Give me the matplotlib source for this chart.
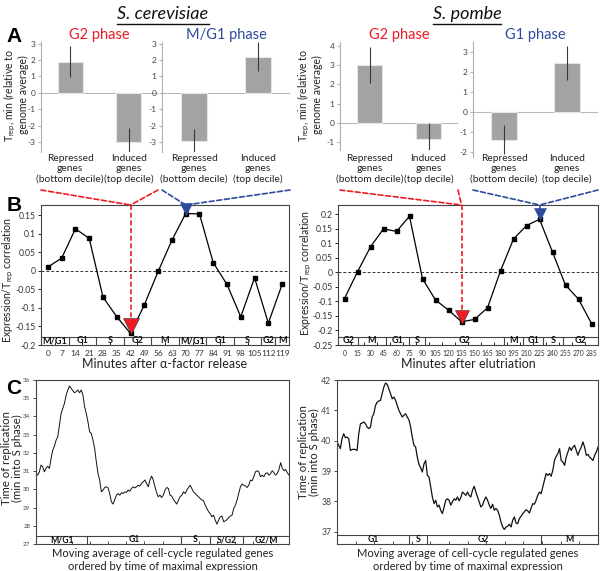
import numpy as np
import matplotlib
matplotlib.use("Agg")
import matplotlib.pyplot as plt
from matplotlib.lines import Line2D
from matplotlib.patches import ConnectionPatch

plt.rcParams['font.family'] = ['Lato', 'DejaVu Sans']
plt.rcParams['mathtext.fontset'] = 'custom'
plt.rcParams['mathtext.rm'] = 'Lato'
plt.rcParams['mathtext.it'] = 'Lato:italic'

# ---------------- data ----------------
bar_categories = ["Repressed\ngenes\n(bottom decile)", "Induced\ngenes\n(top decile)"]
sc_g2_values = [1.9, -3.0]
sc_g2_err = [0.95, 0.85]
sc_mg1_values = [-2.95, 2.2]
sc_mg1_err = [0.75, 0.88]
sp_g2_values = [3.02, -0.85]
sp_g2_err = [0.92, 0.85]
sp_g1_values = [-1.4, 2.45]
sp_g1_err = [0.72, 0.85]

sc_minutes = list(range(0, 120, 7))
sc_corr = [0.01, 0.034, 0.113, 0.087, -0.071, -0.124, -0.169, -0.092, -0.002,
           0.082, 0.154, 0.153, 0.022, -0.037, -0.124, -0.019, -0.141, -0.037]
sc_phase_labels = ["M/G1", "G1", "S", "G2", "M", "M/G1", "G1", "S", "G2", "M"]
sc_phase_bounds = [-3.5, 10.5, 24.5, 38.5, 52.5, 66.5, 80.5, 94.5, 108.5, 115.5, 122.5]

sp_minutes = list(range(0, 286, 15))
sp_corr = [-0.090, 0.002, 0.088, 0.150, 0.141, 0.193, -0.022, -0.095, -0.130, -0.170,
           -0.162, -0.122, 0.005, 0.115, 0.161, 0.183, 0.070, -0.044, -0.092, -0.176]
sp_phase_labels = ["G2", "M", "G1", "S", "G2", "M", "G1", "S", "G2"]
sp_phase_bounds = [-7.5, 16, 47.5, 74.5, 92.5, 184, 206, 229.5, 252.5, 292.5]

sc_rep = [30.87, 30.78, 30.96, 31.33, 31.24, 30.96, 31.15, 31.27, 31.15, 31.70, 32.15, 32.37,
          32.70, 32.89, 33.53, 34.17, 34.44, 34.72, 35.18, 35.45, 35.67, 35.54, 35.41, 35.30,
          35.36, 35.45, 35.30, 35.45, 35.18, 34.53, 34.17, 33.71, 33.16, 33.07, 32.70, 32.25,
          31.51, 30.87, 30.51, 29.86, 29.96, 30.10, 30.14, 30.08, 29.77, 29.32, 29.19, 29.44,
          29.68, 29.77, 29.68, 29.81, 29.77, 29.86, 29.83, 29.96, 29.90, 30.05, 30.14, 30.08,
          30.14, 30.23, 30.18, 30.32, 30.41, 30.51, 30.32, 30.14, 30.51, 30.73, 30.51, 30.14,
          29.81, 29.59, 29.68, 29.55, 29.68, 29.96, 30.10, 30.05, 29.68, 29.63, 29.44, 29.32,
          29.19, 29.41, 29.59, 29.68, 29.86, 29.77, 29.96, 30.10, 30.23, 30.05, 29.86, 29.77,
          29.68, 29.59, 29.50, 29.41, 29.37, 29.13, 28.95, 28.77, 28.67, 28.49, 28.58, 28.31,
          28.09, 28.31, 28.49, 28.53, 28.22, 28.27, 28.34, 28.45, 28.53, 28.58, 28.95, 29.13,
          29.41, 29.77, 30.14, 30.29, 30.23, 30.18, 30.10, 30.23, 30.51, 30.47, 30.69, 30.96,
          31.02, 30.96, 30.69, 30.78, 30.69, 30.87, 30.91, 30.78, 30.87, 31.02, 30.91, 30.78,
          30.87, 31.09, 31.46, 31.15, 31.02, 31.09, 30.91, 30.78]
sc_rep_labels = ["M/G1", "G1", "S", "S/G2", "G2/M"]
sc_rep_bounds = [0.0, 0.203, 0.573, 0.686, 0.818, 1.0]

sp_rep = [39.96, 39.85, 39.74, 40.07, 40.23, 40.10, 40.12, 40.07, 39.68, 39.71, 39.72, 39.71,
          39.68, 40.23, 40.56, 40.58, 40.62, 40.56, 40.45, 40.40, 40.45, 40.78, 40.89, 41.16,
          41.27, 41.31, 41.33, 41.55, 41.77, 41.90, 41.86, 41.71, 41.55, 41.38, 41.44, 41.33,
          41.16, 41.00, 40.89, 40.78, 40.84, 40.89, 40.78, 40.69, 40.45, 40.12, 39.85, 39.79,
          39.46, 39.22, 39.11, 38.97, 39.24, 39.35, 38.86, 38.81, 38.48, 38.15, 37.93, 38.04,
          37.82, 37.88, 37.71, 37.60, 37.82, 38.04, 38.09, 38.04, 37.88, 37.99, 38.09, 38.04,
          38.15, 38.02, 38.13, 38.31, 38.26, 38.20, 38.31, 38.20, 38.15, 38.37, 38.50, 38.31,
          38.15, 37.99, 37.82, 37.88, 38.04, 38.15, 38.04, 37.88, 37.77, 37.91, 37.71, 37.77,
          37.71, 37.55, 37.33, 37.16, 37.08, 37.16, 37.18, 37.25, 37.16, 37.38, 37.49, 37.29,
          37.27, 37.44, 37.51, 37.60, 37.66, 37.73, 37.69, 37.62, 37.77, 37.93, 37.91, 38.04,
          38.20, 38.31, 38.26, 38.48, 38.70, 38.92, 38.86, 38.92, 38.83, 39.03, 39.35, 39.49,
          39.57, 39.74, 39.35, 39.30, 39.19, 39.46, 39.63, 39.79, 39.68, 39.79, 39.85, 39.68,
          39.52, 39.68, 39.79, 39.96, 39.79, 39.52, 39.55, 39.46, 39.41, 39.35, 39.52, 39.63,
          39.79]
sp_rep_labels = ["G1", "S", "G2", "M"]
sp_rep_bounds = [0.0, 0.277, 0.343, 0.781, 1.0]

# ---------------- layout helpers ----------------
W, H = 600, 571
fig = plt.figure(figsize=(6, 5.71), dpi=100)
RED = '#ee1c24'
BLUE = '#2e4b9e'


def pos(x0, y0, x1, y1):
    return [x0 / W, 1 - y1 / H, (x1 - x0) / W, (y1 - y0) / H]


def fy(y):
    return 1 - y / H


def fx(x):
    return x / W


# ---------------- panel A ----------------
def bar_panel(rect, vals, errs, ylim, yticks, title, tcolor):
    ax = fig.add_axes(rect)
    x = np.arange(len(vals))
    ax.bar(x, vals, width=0.42, color='#a3a3a3', edgecolor='#e6e6e6', linewidth=0.8, zorder=2)
    ax.errorbar(x, vals, yerr=errs, fmt='none', ecolor='#3a3a3a', elinewidth=0.8, capsize=0, zorder=3)
    ax.axhline(0, color='#b8b8b8', lw=0.8, zorder=1)
    ax.set_xlim(-0.5, 1.5)
    ax.set_ylim(*ylim)
    for s in ['top', 'right', 'bottom']:
        ax.spines[s].set_visible(False)
    ax.spines['left'].set_color('#b0b0b0')
    ax.spines['left'].set_linewidth(0.8)
    ax.set_yticks(yticks)
    ax.set_yticklabels([f"{v:g}" for v in yticks])
    ax.tick_params(axis='y', labelsize=6, length=2.5, color='#b0b0b0', labelcolor='#404040', pad=1.5)
    ax.set_xticks([])
    ax.patch.set_alpha(0)
    ax.set_title(title, color=tcolor, fontsize=10.5, pad=0)
    for i, lab in enumerate(bar_categories):
        ax.annotate(lab, xy=(i, fy(154)), xycoords=('data', 'figure fraction'),
                    ha='center', va='top', fontsize=7.4, linespacing=1.15, color='#222222')
    return ax


axA1 = bar_panel(pos(41, 42, 158, 152), sc_g2_values, sc_g2_err, (-3.6, 3.1), [-3, -2, -1, 0, 1, 2, 3], "G2 phase", RED)
axA2 = bar_panel(pos(162, 42, 290, 152), sc_mg1_values, sc_mg1_err, (-3.6, 3.1), [-3, -2, -1, 0, 1, 2, 3], "M/G1 phase", BLUE)
axA3 = bar_panel(pos(340, 42, 458, 150), sp_g2_values, sp_g2_err, (-1.4, 4.2), [-1, 0, 1, 2, 3, 4], "G2 phase", RED)
axA4 = bar_panel(pos(473, 42, 598, 157), sp_g1_values, sp_g1_err, (-2.25, 3.48), [-2, -1, 0, 1, 2, 3], "G1 phase", BLUE)

for xx in (15, 309):
    fig.text(fx(xx), fy(95), "T$_{\\mathrm{rep}}$, min (relative to\ngenome average)", rotation=90,
             ha='center', va='center', fontsize=7.6, linespacing=1.0, color='#222222')


# ---------------- panel B ----------------
def corr_panel(rect, x, y, xlim, ylim, yticks, step, strip_top, bounds, labels, xlabel, xtick_fs):
    ax = fig.add_axes(rect)
    ax.plot(x, y, color='black', lw=0.9, marker='s', ms=2.2, zorder=3)
    ax.axhline(0, color='#333333', ls=(0, (3, 2)), lw=0.7, zorder=1)
    ax.set_xlim(*xlim)
    ax.set_ylim(*ylim)
    ax.set_xticks(x)
    ax.set_xticklabels([str(v) for v in x], fontsize=xtick_fs, color='#333333')
    ax.tick_params(axis='x', length=0, pad=3.5)
    ax.set_xticks([v + step / 2 for v in x[:-1]], minor=True)
    ax.tick_params(axis='x', which='minor', direction='in', length=2, width=0.6)
    ax.set_yticks(yticks)
    ax.set_yticklabels([f"{v:g}" for v in yticks])
    ax.tick_params(axis='y', labelsize=6.2, length=2, width=0.6, pad=1.5, labelcolor='#333333')
    for s in ax.spines.values():
        s.set_linewidth(0.8)
        s.set_color('#444444')
    ax.axhline(strip_top, color='#444444', lw=0.8)
    ax.vlines(bounds[1:-1], ylim[0], strip_top, color='#444444', lw=0.8)
    for b0, b1, lab in zip(bounds[:-1], bounds[1:], labels):
        ax.text((b0 + b1) / 2, (ylim[0] + strip_top) / 2, lab, ha='center', va='center',
                fontsize=6.5, color='#111111', fontweight='bold')
    fig.text(rect[0] + rect[2] / 2, fy(364), xlabel, ha='center', va='center', fontsize=9, color='#222222')
    return ax


axB1 = corr_panel(pos(41, 205, 289, 345), sc_minutes, sc_corr, (-3.5, 122.5), (-0.2, 0.177),
                  [-0.2, -0.15, -0.1, -0.05, 0, 0.05, 0.1, 0.15], 7, -0.178,
                  sc_phase_bounds, sc_phase_labels, "Minutes after α-factor release", 6.0)
axB2 = corr_panel(pos(338, 205, 598, 345), sp_minutes, sp_corr, (-7.5, 292.5), (-0.25, 0.232),
                  [-0.25, -0.2, -0.15, -0.1, -0.05, 0, 0.05, 0.1, 0.15, 0.2], 15, -0.222,
                  sp_phase_bounds, sp_phase_labels, "Minutes after elutriation", 4.9)

for xx, yy in ((8, 280), (306, 273)):
    fig.text(fx(xx), fy(yy), "Expression/T$_{\\mathrm{rep}}$ correlation", rotation=90,
             ha='center', va='center', fontsize=7.6, color='#222222')


# connectors and arrows
def connector(axA, axB, xdata, tri_y, color, tri_ms):
    ytop = axB.get_ylim()[1]
    pA = axA.get_position()
    for xa in (pA.x0, pA.x1):
        con = ConnectionPatch(xyA=(xa, fy(190)), coordsA='figure fraction',
                              xyB=(xdata, ytop), coordsB=axB.transData,
                              color=color, lw=1.2, ls=(0, (3, 1.6)))
        fig.add_artist(con)
    axB.plot([xdata, xdata], [ytop, tri_y], color=color, lw=1.2, ls=(0, (3, 1.6)),
             clip_on=False, zorder=4)
    axB.plot([xdata], [tri_y], marker='v', color=color, ms=tri_ms, clip_on=False, zorder=5,
             markeredgecolor='#333333' if color == RED else color, markeredgewidth=0.4)


connector(axA1, axB1, 42, -0.149, RED, 11)
connector(axA2, axB1, 70, 0.167, BLUE, 8)
connector(axA3, axB2, 135, -0.153, RED, 10)
connector(axA4, axB2, 225, 0.202, BLUE, 8)


# ---------------- panel C ----------------
def rep_panel(rect, vals, ylim, yticks, tick_fs, strip_top, bounds, labels, lw):
    ax = fig.add_axes(rect)
    x = np.linspace(0, 1, len(vals))
    ax.plot(x, vals, color='#111111', lw=lw)
    ax.set_xlim(0, 1)
    ax.set_ylim(*ylim)
    ax.set_xticks([])
    ax.set_xticks(np.arange(1, 14) / 14, minor=True)
    ax.tick_params(axis='x', which='minor', direction='in', length=2, width=0.5)
    ax.set_yticks(yticks)
    ax.tick_params(axis='y', labelsize=tick_fs, length=2, width=0.5, pad=2, labelcolor='#444444')
    for s in ax.spines.values():
        s.set_linewidth(0.8)
        s.set_color('#444444')
    ax.axhline(strip_top, color='#444444', lw=0.8)
    ax.vlines(bounds[1:-1], ylim[0], strip_top, color='#444444', lw=0.8)
    for b0, b1, lab in zip(bounds[:-1], bounds[1:], labels):
        ax.text((b0 + b1) / 2, (ylim[0] + strip_top) / 2, lab, ha='center', va='center',
                fontsize=6.2, color='#111111', fontweight='bold')
    fig.text(rect[0] + rect[2] / 2, fy(548), "Moving average of cell-cycle regulated genes\n"
             "ordered by time of maximal expression", ha='center', va='top', fontsize=8,
             linespacing=1.25, color='#222222')
    return ax


axC1 = rep_panel(pos(36, 380, 289, 544), sc_rep, (27, 36), list(range(27, 37)), 4.5, 27.45,
                 sc_rep_bounds, sc_rep_labels, 0.7)
axC2 = rep_panel(pos(337, 380, 598, 544), sp_rep, (36.6, 42), list(range(37, 43)), 6.3, 36.88,
                 sp_rep_bounds, sp_rep_labels, 0.9)

for xx, yy in ((12, 458), (309, 452)):
    fig.text(fx(xx), fy(yy), "Time of replication\n(min into S phase)", rotation=90,
             ha='center', va='center', fontsize=8.2, linespacing=1.1, color='#222222')

# ---------------- labels and species titles ----------------
for lab, yy in (("A", 37), ("B", 205), ("C", 388)):
    fig.text(fx(14), fy(yy), lab, ha='center', va='center', fontsize=15, fontweight='bold',
             family=['Liberation Sans', 'DejaVu Sans'])

titles = []
for txt, xx in (("S. cerevisiae", 163), ("S. pombe", 467)):
    titles.append(fig.text(fx(xx), fy(14), txt, ha='center', va='center', fontsize=13,
                           style='italic', color='#111111'))

fig.canvas.draw()
inv = fig.transFigure.inverted()
for t in titles:
    bb = t.get_window_extent()
    (x0, y0), (x1, _) = inv.transform([[bb.x0, bb.y0], [bb.x1, bb.y1]])
    fig.add_artist(Line2D([x0, x1], [y0 - 0.003, y0 - 0.003], transform=fig.transFigure,
                          color='#111111', lw=1.0))

fig.savefig("out.png", dpi=100)
